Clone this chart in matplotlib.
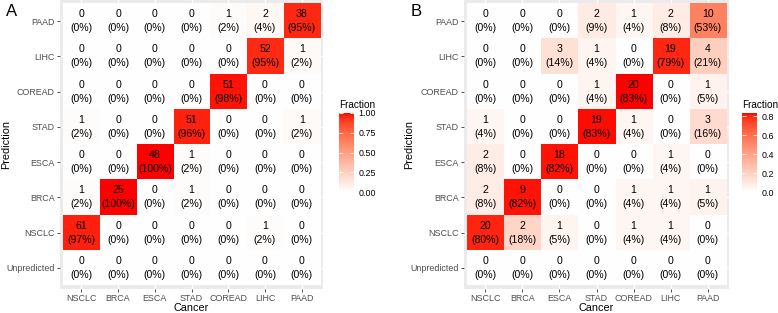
import numpy as np
import matplotlib
matplotlib.use("Agg")
import matplotlib.pyplot as plt
from matplotlib.colors import ListedColormap, Normalize

plt.rcParams['font.family'] = ['Liberation Sans', 'DejaVu Sans']

cancers = ["NSCLC", "BRCA", "ESCA", "STAD", "COREAD", "LIHC", "PAAD"]
# prediction rows, bottom to top
predictions = ["Unpredicted", "NSCLC", "BRCA", "ESCA", "STAD", "COREAD", "LIHC", "PAAD"]

# counts[row][col], rows follow `predictions`, cols follow `cancers`
counts_a = [
    [0, 0, 0, 0, 0, 0, 0],
    [61, 0, 0, 0, 0, 1, 0],
    [1, 25, 0, 1, 0, 0, 0],
    [0, 0, 48, 1, 0, 0, 0],
    [1, 0, 0, 51, 0, 0, 1],
    [0, 0, 0, 0, 51, 0, 0],
    [0, 0, 0, 0, 0, 52, 1],
    [0, 0, 0, 0, 1, 2, 38],
]
counts_b = [
    [0, 0, 0, 0, 0, 0, 0],
    [20, 2, 1, 0, 1, 1, 0],
    [2, 9, 0, 0, 1, 1, 1],
    [2, 0, 18, 0, 0, 1, 0],
    [1, 0, 0, 19, 1, 0, 3],
    [0, 0, 0, 1, 20, 0, 1],
    [0, 0, 3, 1, 0, 19, 4],
    [0, 0, 0, 2, 1, 2, 10],
]


def lab_to_rgb(L, a, b):
    fy = (L + 16) / 116
    fx = fy + a / 500
    fz = fy - b / 200
    def finv(t):
        return np.where(t > 6 / 29, t ** 3, 3 * (6 / 29) ** 2 * (t - 4 / 29))
    X = 0.95047 * finv(fx)
    Y = 1.0 * finv(fy)
    Z = 1.08883 * finv(fz)
    r = 3.2406 * X - 1.5372 * Y - 0.4986 * Z
    g = -0.9689 * X + 1.8758 * Y + 0.0415 * Z
    bb = 0.0557 * X - 0.2040 * Y + 1.0570 * Z
    rgb = np.clip(np.stack([r, g, bb], axis=-1), 0, 1)
    return np.where(rgb > 0.0031308, 1.055 * rgb ** (1 / 2.4) - 0.055, 12.92 * rgb)


# white -> red, interpolated in Lab like ggplot's scale_fill_gradient
t = np.linspace(0, 1, 256)
cmap = ListedColormap(lab_to_rgb(100 + t * (53.24 - 100), t * 80.09, t * 67.20))

fig = plt.figure(figsize=(7.78, 3.13), dpi=100)
W, H = 778, 313


def px_axes(x0, y0, x1, y1):
    return fig.add_axes([x0 / W, 1 - y1 / H, (x1 - x0) / W, (y1 - y0) / H])


def draw_panel(counts, ax_box, cbar_box, letter, letter_x, ylab_x, ticks):
    counts = np.array(counts, dtype=float)
    frac = counts / counts.sum(axis=0, keepdims=True)
    vmax = frac.max()
    norm = Normalize(0, vmax)

    ax = px_axes(*ax_box)
    ax.set_facecolor("#EBEBEB")
    ax.set_xlim(-0.58, 6.58)
    ax.set_ylim(-0.6, 7.6)
    for i in range(len(cancers)):
        ax.axvline(i, color="white", lw=1.0, zorder=0)
    for j in range(len(predictions)):
        ax.axhline(j, color="white", lw=1.0, zorder=0)
    ax.imshow(frac, cmap=cmap, norm=norm, origin="lower", aspect="auto",
              extent=(-0.5, 6.5, -0.5, 7.5), interpolation="nearest", zorder=1)
    for r in range(len(predictions)):
        for c in range(len(cancers)):
            pct = int(round(frac[r, c] * 100))
            ax.text(c, r + 0.2, f"{int(counts[r, c])}", ha="center", va="center",
                    fontsize=7.6, color="black", zorder=2)
            ax.text(c, r - 0.2, f"({pct}%)", ha="center", va="center",
                    fontsize=7.6, color="black", zorder=2)
    for s in ax.spines.values():
        s.set_visible(False)
    ax.set_xticks(range(len(cancers)))
    ax.set_xticklabels(cancers)
    ax.set_yticks(range(len(predictions)))
    ax.set_yticklabels(predictions)
    ax.tick_params(labelsize=6.4, labelcolor="#4D4D4D", color="#333333",
                   length=2.2, width=0.6, pad=1.5)
    ax.tick_params(axis="x", pad=1.2)

    x0, y0, x1, y1 = ax_box
    fig.text((x0 + x1) / 2 / W, 1 - 308 / H, "Cancer", fontsize=7.8,
             ha="center", va="center")
    fig.text(ylab_x / W, 1 - (y0 + y1) / 2 / H, "Prediction", fontsize=7.8,
             ha="center", va="center", rotation=90)

    cax = px_axes(*cbar_box)
    cb = fig.colorbar(plt.cm.ScalarMappable(norm=norm, cmap=cmap), cax=cax)
    cb.outline.set_visible(False)
    cb.set_ticks(ticks)
    cb.set_ticklabels([f"{v:.2f}" if ticks[-1] == 1 else f"{v:.1f}" for v in ticks])
    cax.tick_params(labelsize=6.4, color="white", length=3, width=0.6,
                    direction="in", pad=3, left=True, right=True)
    fig.text(cbar_box[0] / W, 1 - 108 / H, "Fraction", fontsize=7.2,
             ha="left", va="baseline")
    fig.text(letter_x / W, 1 - 11 / H, letter, fontsize=12, ha="left", va="center")


draw_panel(counts_a, (60, 0, 323, 289), (339, 113, 354, 192), "A", 6, 6,
           [0, 0.25, 0.5, 0.75, 1.0])
draw_panel(counts_b, (464, 0, 729, 289), (742, 113, 757, 192), "B", 411, 409,
           [0, 0.2, 0.4, 0.6, 0.8])

fig.savefig("out.png", dpi=100)
